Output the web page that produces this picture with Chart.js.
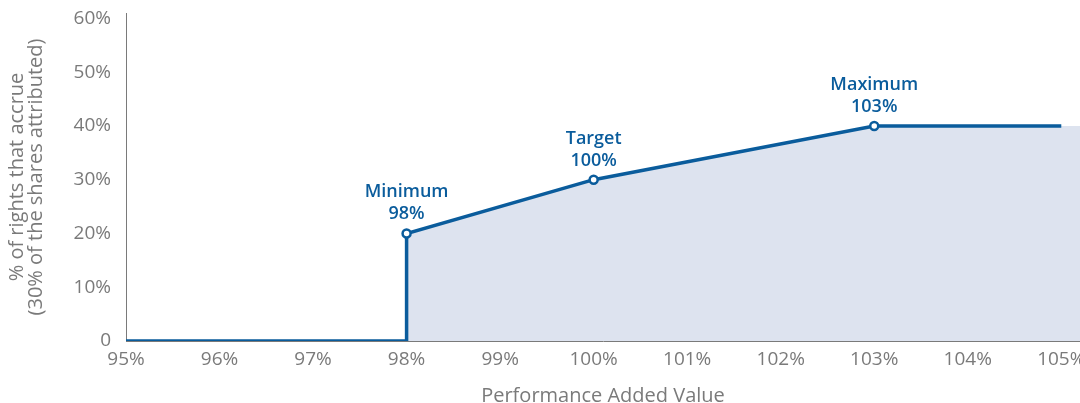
<!DOCTYPE html>
<html>
<head>
<meta charset="utf-8">
<script src="https://cdn.jsdelivr.net/npm/chart.js@4"></script>
<style>
  html, body { margin: 0; padding: 0; background: #fff; }
  #wrap { width: 1080px; height: 403px; position: relative; }
</style>
</head>
<body>
<div id="wrap"><canvas id="vestingChart"></canvas></div>
<script>
// performance (%) vs rights that accrue (%)
const stepX = [95, 98, 98, 100, 103, 105];
const stepY = [0, 0, 20, 30, 40, 40];
const fillX = [98, 100, 103, 105.2];
const fillY = [20, 30, 40, 40];
const markerIdx = [2, 3, 4];
const markerNames = ['Minimum', 'Target', 'Maximum'];
const markerPerf = ['98%', '100%', '103%'];
const xTicks = [95, 96, 97, 98, 99, 100, 101, 102, 103, 104, 105];
const yTicks = [0, 10, 20, 30, 40, 50, 60];

const BLUE = '#0a5c9c';
const GREY = '#7a7a7a';
const FONT = '"Open Sans", "Noto Sans", sans-serif';

const toPoints = (xs, ys) => xs.map((x, i) => ({ x: x, y: ys[i] }));

// draws the Minimum / Target / Maximum captions above the markers
const markerLabels = {
    id: 'markerLabels',
    afterDatasetsDraw(chart) {
        const ctx = chart.ctx;
        const xs = chart.scales.x;
        const ys = chart.scales.y;
        ctx.save();
        ctx.fillStyle = BLUE;
        ctx.textAlign = 'center';
        ctx.textBaseline = 'alphabetic';
        ctx.font = '600 18px ' + FONT;
        markerIdx.forEach((idx, i) => {
            const px = xs.getPixelForValue(stepX[idx]);
            const py = ys.getPixelForValue(stepY[idx]);
            ctx.fillText(markerNames[i], px, py - 36);
            ctx.fillText(markerPerf[i], px, py - 14);
        });
        ctx.restore();
    }
};

new Chart(document.getElementById('vestingChart'), {
    type: 'line',
    data: {
        datasets: [
            {
                data: toPoints(stepX, stepY),
                borderColor: BLUE,
                borderWidth: 3.5,
                fill: false,
                tension: 0,
                pointRadius: stepX.map((_, i) => markerIdx.includes(i) ? 4 : 0),
                pointBorderWidth: 2.5,
                pointBackgroundColor: '#fff',
                pointBorderColor: BLUE,
                order: 0
            },
            {
                data: toPoints(fillX, fillY),
                borderWidth: 0,
                borderColor: 'rgba(0,0,0,0)',
                backgroundColor: '#dde3ef',
                fill: 'origin',
                pointRadius: 0,
                tension: 0,
                order: 1
            }
        ]
    },
    options: {
        responsive: true,
        maintainAspectRatio: false,
        animation: false,
        layout: { padding: { top: 13, right: 0, left: 8, bottom: 0 } },
        plugins: {
            legend: { display: false },
            tooltip: { enabled: false }
        },
        scales: {
            x: {
                type: 'linear',
                min: 95,
                max: 105.2,
                grid: { display: false, drawTicks: false },
                border: { display: true, color: GREY, width: 1 },
                afterBuildTicks: (scale) => {
                    scale.ticks = xTicks.map(v => ({ value: v }));
                },
                ticks: {
                    color: GREY,
                    font: { family: FONT, size: 19 },
                    padding: 7,
                    maxRotation: 0,
                    autoSkip: false,
                    callback: (v) => v + '%'
                },
                title: {
                    display: true,
                    text: 'Performance Added Value',
                    color: GREY,
                    font: { family: FONT, size: 20 },
                    padding: { top: 12, bottom: -5 }
                },
                afterFit: (scale) => {
                    scale.height = 62;
                    scale.paddingLeft = 0;
                    scale.paddingRight = 0;
                }
            },
            y: {
                min: 0,
                max: 61,
                grid: { display: false, drawTicks: false },
                border: { display: true, color: GREY, width: 1 },
                afterBuildTicks: (scale) => {
                    scale.ticks = yTicks.map(v => ({ value: v }));
                },
                ticks: {
                    color: GREY,
                    font: { family: FONT, size: 19 },
                    padding: 15,
                    callback: (v) => v === 0 ? '0' : v + '%'
                },
                title: {
                    display: true,
                    text: ['% of rights that accrue', '(30% of the shares attributed)'],
                    color: GREY,
                    font: { family: FONT, size: 20, lineHeight: 0.95 },
                    padding: { top: 0, bottom: 0 }
                },
                afterFit: (scale) => {
                    scale.width = 118;
                    scale.paddingTop = 0;
                    scale.paddingBottom = 0;
                }
            }
        }
    },
    plugins: [markerLabels]
});
</script>
</body>
</html>
